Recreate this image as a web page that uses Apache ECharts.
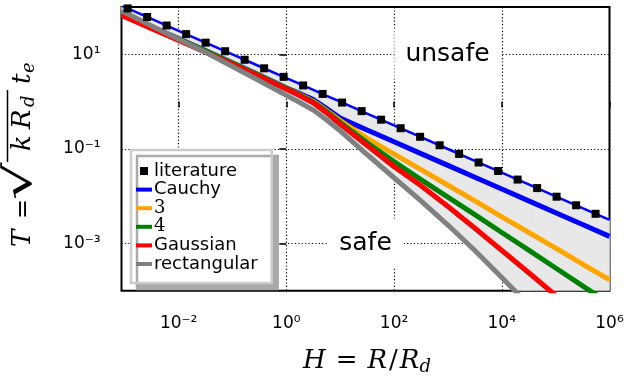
<!DOCTYPE html>
<html><head><meta charset="utf-8">
<script src="https://cdn.jsdelivr.net/npm/echarts@6/dist/echarts.min.js"></script>
<style>html,body{margin:0;padding:0;background:#fff}#c{width:627px;height:383px}</style>
</head><body><div id="c"></div>
<script>
// H = R/R_d sample points
const H = [0.000871, 0.00316, 0.01, 0.0316, 0.1, 0.316, 1, 1.78, 3.16, 5.62, 10, 31.6, 100, 316, 1000, 3160, 1e4, 31600, 1e5, 316000, 1e6];
// T values
const literatureLineT = [106.4, 55.8, 31.4, 17.7, 9.93, 5.58, 3.14, 2.36, 1.77, 1.32, 0.993, 0.558, 0.314, 0.177, 0.0993, 0.0558, 0.0314, 0.0177, 0.00993, 0.00558, 0.00314];
const cauchyT = [72.4, 38.0, 21.4, 12.0, 6.61, 3.63, 1.95, 1.48, 1.10, 0.708, 0.447, 0.251, 0.141, 0.0794, 0.0447, 0.0251, 0.0141, 0.00794, 0.00447, 0.00251, 0.00141];
const t3T = [70.8, 37.2, 20.9, 11.7, 6.46, 3.55, 1.91, 1.41, 1.02, 0.646, 0.398, 0.166, 0.0776, 0.0363, 0.0170, 0.00794, 0.00363, 0.00170, 0.000794, 0.000363, 0.000170];
const t4T = [70.8, 37.2, 20.9, 11.7, 6.46, 3.55, 1.91, 1.38, 0.977, 0.617, 0.363, 0.135, 0.0537, 0.0224, 0.00955, 0.00407, 0.00170, 0.000724, 0.000302, 0.000126, 0.0000537];
const gaussianT = [66.1, 34.7, 19.5, 11.0, 6.17, 3.39, 1.82, 1.32, 0.933, 0.575, 0.331, 0.117, 0.0417, 0.0166, 0.00603, 0.00209, 0.000708, 0.000240, 0.0000794, 0.0000263, 0.0000087];
const rectangularT = [83.2, 39.8, 20.9, 11.0, 5.50, 2.75, 1.35, 0.955, 0.661, 0.407, 0.240, 0.0759, 0.0245, 0.00794, 0.00245, 0.000708, 0.000191, 0.0000501, 0.0000132, 0.00000347, 0.00000091];
// literature markers
const litMarkH = [0.001132, 0.002606, 0.005998, 0.01380, 0.03177, 0.07311, 0.1683, 0.3873, 0.8913, 2.051, 4.721, 10.86, 25.00, 57.54, 132.4, 304.8, 701.5, 1614, 3715, 8551, 19680, 45290, 104200, 239900, 552100];
const litMarkT = [93.3, 61.5, 40.6, 26.7, 17.6, 11.6, 7.66, 5.05, 3.33, 2.19, 1.45, 0.953, 0.628, 0.414, 0.273, 0.180, 0.119, 0.0782, 0.0515, 0.0340, 0.0224, 0.0148, 0.00973, 0.00641, 0.00423];
// tick exponents
const xTickExp = [-2, 0, 2, 4, 6];
const yTickExp = [1, -1, -3];
const legendNames = ['literature', 'Cauchy', '3', '4', 'Gaussian', 'rectangular'];

const L = Math.log10;
const pts = (xs, ys) => xs.map((x, i) => [L(x), L(ys[i])]);
const lx = H.map(L), lLit = literatureLineT.map(L), lRect = rectangularT.map(L);

const sq = 'path://M0,0L0,0M16,8L16,8M4,0H12V8H4Z';
const ln = 'path://M0,0L0,0M16,8L16,8M0,2H16V6H0Z';

const SUP = {'-': '\u207B', '0': '\u2070', '1': '\u00B9', '2': '\u00B2', '3': '\u00B3', '4': '\u2074', '5': '\u2075', '6': '\u2076', '7': '\u2077', '8': '\u2078', '9': '\u2079'};
const fmt = v => '10' + String(Math.round(v)).split('').map(c => SUP[c]).join('');

const serif = (size, italic) => (italic ? 'italic ' : '') + size + 'px "DejaVu Serif"';
const glyph = (text, x, y, size, italic, extra) => Object.assign({
  type: 'text', x, y,
  style: {text, font: serif(size, italic), fill: '#000', align: 'left', verticalAlign: 'middle'}
}, extra || {});

const chart = echarts.init(document.getElementById('c'), null, {renderer: 'canvas'});
const lineSeries = (name, T, color) => ({
  name, type: 'line', data: pts(H, T), showSymbol: false, symbol: 'none', clip: true,
  lineStyle: {width: 5, color}, itemStyle: {color}, silent: true
});
chart.setOption({
  animation: false,
  grid: {left: 121.5, right: 17.5, top: 7, bottom: 92.3, show: true, borderColor: '#000', borderWidth: 2, backgroundColor: 'transparent', outerBoundsMode: 'none', containLabel: false},
  xAxis: {
    type: 'value', min: -3.06, max: 6,
    axisLine: {show: false},
    axisTick: {show: true, inside: false, length: 6, lineStyle: {color: '#000', width: 1.5}, customValues: xTickExp},
    axisLabel: {customValues: xTickExp, formatter: fmt, margin: 24, color: '#000', fontSize: 17, fontFamily: 'DejaVu Sans'},
    splitLine: {show: true, lineStyle: {color: '#000', width: 1.2, type: [1.2, 2.2]}}
  },
  yAxis: {
    type: 'value', min: -4, max: 2,
    axisLine: {show: false},
    axisTick: {show: true, inside: false, length: 7, lineStyle: {color: '#000', width: 1.5}, customValues: yTickExp},
    axisLabel: {customValues: yTickExp, formatter: fmt, margin: 21, color: '#000', fontSize: 17, fontFamily: 'DejaVu Sans'},
    splitLine: {show: true, lineStyle: {color: '#000', width: 1.2, type: [1.2, 2.2]}}
  },
  legend: {
    orient: 'vertical', left: 131, top: 150, padding: [12, 14, 10, 5], itemGap: 0.6,
    itemWidth: 16, itemHeight: 8, selectedMode: false,
    backgroundColor: '#fff', borderColor: '#cccccc', borderWidth: 2.5, borderRadius: 0,
    shadowColor: '#aaaaaa', shadowBlur: 0, shadowOffsetX: 6, shadowOffsetY: 6,
    itemStyle: {borderWidth: 0},
    textStyle: {fontFamily: 'DejaVu Sans', fontSize: 18, color: '#000', lineHeight: 18, padding: [0, 0, 0, -3]},
    data: legendNames.map((n, i) => {
      const d = {name: n, icon: i === 0 ? sq : ln};
      if (n === '3' || n === '4') d.textStyle = {fontFamily: 'DejaVu Serif', fontSize: 18, color: '#000', lineHeight: 18, padding: [0, 0, 0, -3]};
      return d;
    })
  },
  series: [
    {
      name: 'fill', type: 'custom', clip: true, silent: true, z: 1,
      data: lx.map((x, i) => [x, lLit[i], lRect[i]]),
      encode: {x: 0, y: [1, 2]},
      renderItem: (params, api) => {
        const i = params.dataIndex;
        if (i >= lx.length - 1) return null;
        const p = [api.coord([lx[i], lLit[i]]), api.coord([lx[i + 1], lLit[i + 1]]),
                   api.coord([lx[i + 1], lRect[i + 1]]), api.coord([lx[i], lRect[i]])];
        return {type: 'polygon', shape: {points: p}, style: {fill: '#e8e8e8', stroke: '#e8e8e8', lineWidth: 0.6}};
      }
    },
    lineSeries('Cauchy', cauchyT, '#0000ff'),
    lineSeries('3', t3T, '#ffa500'),
    lineSeries('4', t4T, '#008000'),
    lineSeries('Gaussian', gaussianT, '#ff0000'),
    lineSeries('rectangular', rectangularT, '#808080'),
    {name: 'litLine', type: 'line', data: pts(H, literatureLineT), showSymbol: false, symbol: 'none', clip: true,
      lineStyle: {width: 2.5, color: '#0000ff'}, itemStyle: {color: '#0000ff'}, silent: true},
    {name: 'literature', type: 'scatter', data: pts(litMarkH, litMarkT), symbol: 'rect', symbolSize: 8,
      itemStyle: {color: '#000', opacity: 1}, clip: true, silent: true, z: 5}
  ],
  graphic: [
    {type: 'text', x: 447.5, y: 54, z: 100, style: {text: 'unsafe', font: '25px "DejaVu Sans"', fill: '#000', align: 'center', verticalAlign: 'middle', backgroundColor: '#fff', padding: [12, 11, 12, 11]}},
    {type: 'text', x: 365.5, y: 243, z: 100, style: {text: 'safe', font: '25px "DejaVu Sans"', fill: '#000', align: 'center', verticalAlign: 'middle', backgroundColor: '#fff', padding: [12, 12, 12, 12]}},
    {type: 'text', x: 367, y: 361, z: 100, style: {
      text: '{i|H}{n|=}{i|R}{sl|/}{i|R}{s|d}', align: 'center', verticalAlign: 'middle',
      rich: {
        i: {fontFamily: 'DejaVu Serif', fontStyle: 'italic', fontSize: 26, fill: '#000'},
        n: {fontFamily: 'DejaVu Serif', fontSize: 26, fill: '#000', padding: [0, 10, 0, 10]},
        sl: {fontFamily: 'DejaVu Serif', fontSize: 26, fill: '#000', padding: [0, 2, 0, 2]},
        s: {fontFamily: 'DejaVu Serif', fontStyle: 'italic', fontSize: 18, fill: '#000', padding: [12, 0, 0, 0]}
      }}},
    // y-axis title: T = sqrt(k R_d) t_e, read bottom-to-top
    {type: 'group', x: 32, y: 247, rotation: Math.PI / 2, z: 100, children: [
      glyph('T', 0, -9, 26, true),
      glyph('=', 28, -8.5, 24, false),
      glyph('√', 47, -10.5, 38, false, {scaleX: 1.55, scaleY: 1}),
      {type: 'line', shape: {x1: 85, y1: -24.5, x2: 157, y2: -24.5}, style: {stroke: '#000', lineWidth: 1.5}},
      glyph('k', 96, -9, 26, true),
      glyph('R', 118, -9, 26, true),
      glyph('d', 140, -2.5, 18, true),
      glyph('t', 163, -9, 26, true),
      glyph('e', 174, -2.5, 18, true)
    ]}
  ]
});
</script>
</body></html>
